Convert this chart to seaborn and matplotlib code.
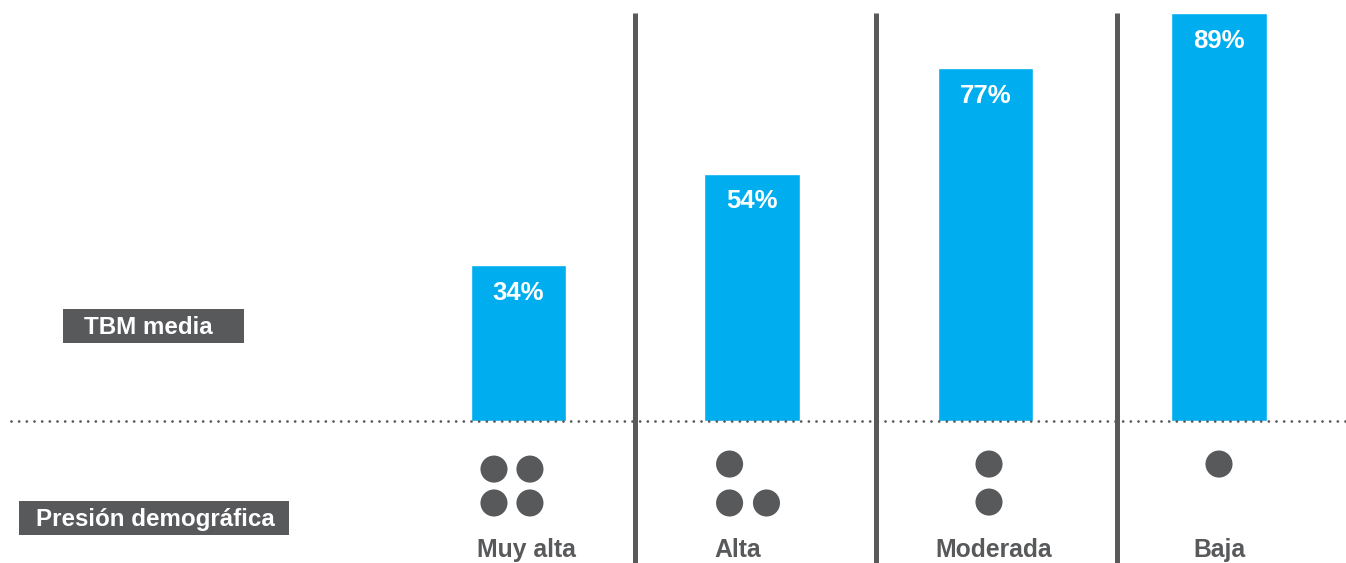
import matplotlib
matplotlib.use("Agg")
import matplotlib.pyplot as plt
from matplotlib.patches import Rectangle
import seaborn as sns
import pandas as pd

# Data
categories = ["Muy alta", "Alta", "Moderada", "Baja"]
tbm_media = [34, 54, 77, 89]
pressure_dots = [4, 3, 2, 1]
value_labels = ["34%", "54%", "77%", "89%"]

BLUE = "#00AEEF"
GREY = "#58595B"

sns.set_theme(style="white")
plt.rcParams["font.family"] = ["Liberation Sans", "DejaVu Sans"]

W, H = 1346, 563
fig = plt.figure(figsize=(W / 100, H / 100), dpi=100)
ax = fig.add_axes([0, 0, 1, 1])

df = pd.DataFrame({"cat": categories, "tbm": tbm_media})
sns.barplot(data=df, x="cat", y="tbm", color=BLUE, saturation=1,
            width=0.407, ax=ax, zorder=2)

# Axis frame: first category centre at 518.5 px, 233.5 px per category,
# baseline 421 px from the top, 4.58 px per percentage point
X0, STEP = 518.5, 233.5
BASE, SCALE = 421, 4.58
ax.set_xlim(-X0 / STEP, (W - X0) / STEP)
ax.set_ylim(-(H - BASE) / SCALE, BASE / SCALE)
ax.set_axis_off()

# Value labels inside the bars
for i, (v, lbl) in enumerate(zip(tbm_media, value_labels)):
    ax.annotate(lbl, (i, v), xytext=(0, -25), textcoords="offset points",
                ha="center", va="baseline", color="white",
                fontsize=18.5, fontweight="bold", zorder=4)

# Dotted baseline
ax.plot([(11 - X0) / STEP, (W - X0) / STEP], [0, 0], color=GREY,
        linewidth=2.0, linestyle=(0, (0.01, 2.75)), dash_capstyle="round",
        zorder=3)

# Vertical separators between groups
sep_x = [0.497, 1.531, 2.565]
ax.vlines(sep_x, ax.get_ylim()[0], max(tbm_media), color=GREY,
          linewidth=3.6, zorder=1)

# Demographic-pressure dots (offsets in category / percentage units)
dot_layouts = {
    4: [(-0.105, -10.5), (0.049, -10.5), (-0.105, -17.9), (0.049, -17.9)],
    3: [(-0.096, -9.4), (-0.096, -17.9), (0.062, -17.9)],
    2: [(0.015, -9.4), (0.015, -17.7)],
    1: [(0.0, -9.4)],
}
for i, n in enumerate(pressure_dots):
    pts = dot_layouts[n]
    ax.scatter([i + dx for dx, _ in pts], [dy for _, dy in pts],
               s=380, color=GREY, edgecolors="none", zorder=3)

# Category labels
label_dx = [0.036, -0.06, 0.036, 0.0]
for i, (cat, dx) in enumerate(zip(categories, label_dx)):
    ax.text(i + dx, -(557 - BASE) / SCALE, cat, ha="center", va="baseline",
            color=GREY, fontsize=17.8, fontweight="bold")

# Row headers
def header(x0, x1, y0, y1, tx, ty, text):
    fig.add_artist(Rectangle((x0 / W, 1 - y1 / H), (x1 - x0) / W,
                             (y1 - y0) / H, transform=fig.transFigure,
                             facecolor=GREY, edgecolor="none"))
    fig.text(tx / W, 1 - ty / H, text, ha="left", va="baseline",
             color="white", fontsize=17.4, fontweight="bold")

header(63, 244, 309, 343, 84, 334, "TBM media")
header(19, 289, 501, 535, 36, 526, "Presión demográfica")

fig.savefig("out.png", dpi=100)
